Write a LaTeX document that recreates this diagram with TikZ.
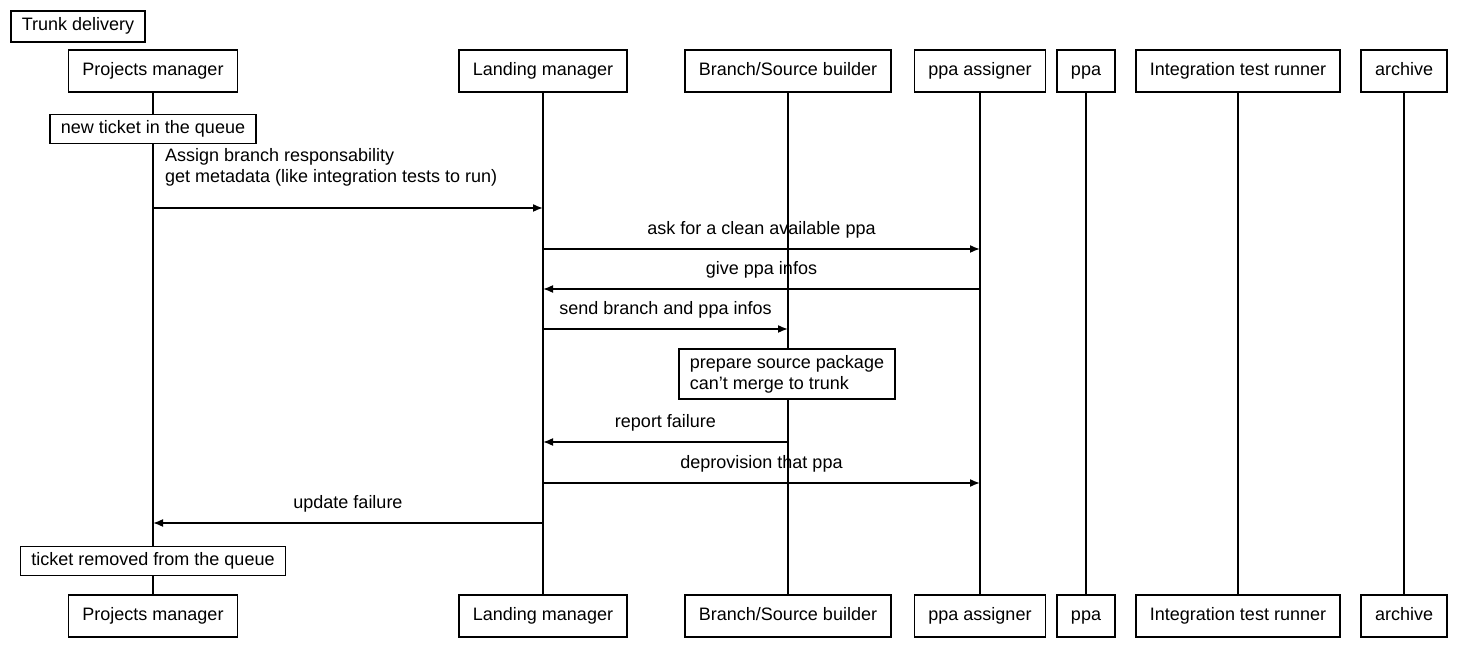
\documentclass[tikz,border=0pt]{standalone}
\usepackage{fontspec}
\setmainfont{Liberation Sans}
\usetikzlibrary{arrows.meta,positioning,calc}

\begin{document}
\begin{tikzpicture}[x=0.5pt,y=-0.5pt,
    font=\fontsize{9}{10.5}\selectfont,
    actor/.style={draw, fill=white, line width=0.8pt, minimum height=21pt,
                  inner xsep=7pt, text height=6.8pt, text depth=2pt},
    note/.style={draw, fill=white, line width=0.8pt, align=left,
                 inner xsep=5.5pt, inner ysep=3pt},
    life/.style={line width=0.7pt},
    msg/.style={line width=0.8pt, -{Latex[length=5pt,width=4pt]}},
    lbl/.style={midway, anchor=south, yshift=1.5pt},
]
\useasboundingbox (0,0) rectangle (1473,657);

\node[note,anchor=north west,minimum height=15.5pt] (title) at (10,10) {Trunk delivery};

% participants, top row
\node[actor] (pm) at (153,71) {Projects manager};
\node[actor] (lm) at (543,71) {Landing manager};
\node[actor] (bs) at (788,71) {Branch/Source builder};
\node[actor] (pa) at (980,71) {ppa assigner};
\node[actor] (ppa) at (1086,71) {ppa};
\node[actor] (itr) at (1238,71) {Integration test runner};
\node[actor] (arc) at (1404,71) {archive};

% participants, bottom row
\node[actor] (pm-b) at (153,616) {Projects manager};
\node[actor] (lm-b) at (543,616) {Landing manager};
\node[actor] (bs-b) at (788,616) {Branch/Source builder};
\node[actor] (pa-b) at (980,616) {ppa assigner};
\node[actor] (ppa-b) at (1086,616) {ppa};
\node[actor] (itr-b) at (1238,616) {Integration test runner};
\node[actor] (arc-b) at (1404,616) {archive};

% lifelines
\foreach \p in {pm,lm,bs,pa,ppa,itr,arc}
  \draw[life] (\p.south) -- (\p-b.north);

% notes
\node[note] (newticket) at (153,129) {new ticket in the queue};
\node[note] (prepare) at (787,374) {prepare source package\\can't merge to trunk};
\node[note] (removed) at (153,561) {ticket removed from the queue};

% message levels
\coordinate (m1) at (0,208);
\coordinate (m2) at (0,249);
\coordinate (m3) at (0,289);
\coordinate (m4) at (0,329);
\coordinate (m5) at (0,442);
\coordinate (m6) at (0,483);
\coordinate (m7) at (0,523);

% messages
\draw[msg] (pm |- m1) -- (lm |- m1);
\node[anchor=south west,align=left] (m1-lbl) at (158,193)
  {Assign branch responsability\\get metadata (like integration tests to run)};
\draw[msg] (lm |- m2) -- node[lbl] {ask for a clean available ppa} (pa |- m2);
\draw[msg] (pa |- m3) -- node[lbl] {give ppa infos} (lm |- m3);
\draw[msg] (lm |- m4) -- node[lbl] {send branch and ppa infos} (bs |- m4);
\draw[msg] (bs |- m5) -- node[lbl] {report failure} (lm |- m5);
\draw[msg] (lm |- m6) -- node[lbl] {deprovision that ppa} (pa |- m6);
\draw[msg] (lm |- m7) -- node[lbl] {update failure} (pm |- m7);

\end{tikzpicture}
\end{document}
